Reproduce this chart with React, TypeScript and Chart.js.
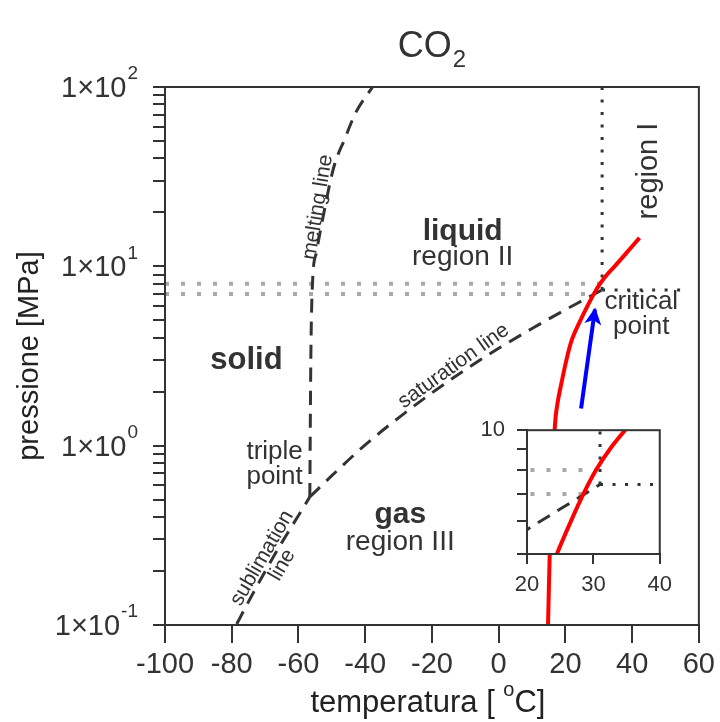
import { useEffect, useRef } from 'react';
import { Chart, registerables } from 'chart.js';

Chart.register(...registerables);

const FONT = '"Liberation Sans", Arial, Helvetica, sans-serif';
const INK = '#333333';
const RED = '#ff0000';
const BLUE = '#0000ff';
const GRAY_DOT = '#a8a8a8';

// CO2 phase boundaries: temperature [°C] vs pressure [MPa]
const meltingT = [-56.6, -56.3, -55.8, -54.6, -53.0, -49.4, -46.0, -42.9, -37.8];
const meltingP = [0.518, 3, 8, 12, 17.4, 35.8, 52, 71.6, 100];

const sublimationT = [-78.5, -75, -70, -65, -60, -56.6];
const sublimationP = [0.1013, 0.1346, 0.199, 0.288, 0.408, 0.518];

const saturationT = [-56.6, -50, -40, -30, -20, -10, 0, 10, 20, 25, 31];
const saturationP = [0.518, 0.68, 1.01, 1.43, 1.97, 2.65, 3.49, 4.5, 5.73, 6.43, 7.38];

// process path (red) and its direction (blue arrow)
const pathT = [14.8, 15.3, 16.0, 17.0, 17.8, 19.0, 20.3, 21.9, 24.5, 26.6, 28.5, 30.4, 32.5, 34.75, 38.5, 42.2];
const pathP = [0.1, 0.25, 0.7, 1.4, 1.8, 2.32, 3.0, 3.88, 5.0, 6.0, 7.0, 8.0, 9.0, 10, 12, 14.4];
const arrowT = [24.7, 28.85];
const arrowP = [1.61, 5.75];

// critical point and reference lines
const criticalT = 31.0;
const criticalP = 7.38;
const isothermP = [criticalP, 100];
const isobarT = [criticalT, 57];
const insetIsobarT = [criticalT, 39];
const refP = [8, 7];
const refEndT = [30.4, 28.5];

// axes
const xMin = -100;
const xMax = 60;
const xStep = 20;
const yMin = 0.1;
const yMax = 100;
const yDecades = [-1, 0, 1, 2];
const insetXMin = 20;
const insetXMax = 40;
const insetYMin = 5;
const insetYMax = 10;
const insetYTicks = [5, 6, 7, 8, 9, 10];

const pts = (xs: number[], ys: number[]) => xs.map((x, i) => ({ x, y: ys[i] }));

function line(data: any[], color: string, width: number, dash: number[], order: number, curve = '') {
  return {
    data,
    borderColor: color,
    borderWidth: width,
    borderDash: dash,
    borderCapStyle: 'butt',
    pointRadius: 0,
    fill: false,
    order,
    cubicInterpolationMode: curve === 'monotone' ? 'monotone' : 'default',
    tension: curve === 'spline' ? 0.35 : 0,
  };
}

function refLines(isobar: number[]) {
  return [
    line(pts([xMin, refEndT[0]], [refP[0], refP[0]]), GRAY_DOT, 4, [4, 12], 5),
    line(pts([xMin, refEndT[1]], [refP[1], refP[1]]), GRAY_DOT, 4, [4, 12], 5),
    line(pts([criticalT, criticalT], isothermP), INK, 3, [3, 9.5], 4),
    line(pts(isobar, [criticalP, criticalP]), INK, 3, [3, 9.5], 4),
  ];
}

function text(ctx: CanvasRenderingContext2D, s: string, x: number, y: number, size: number, o: any = {}) {
  ctx.save();
  ctx.translate(x, y);
  if (o.angle) ctx.rotate((o.angle * Math.PI) / 180);
  ctx.font = `${o.bold ? 'bold ' : ''}${size}px ${FONT}`;
  ctx.fillStyle = o.color || INK;
  ctx.textAlign = o.align || 'center';
  ctx.textBaseline = o.baseline || 'middle';
  ctx.fillText(s, 0, 0);
  ctx.restore();
}

// labels placed in data coordinates (T, P)
const notes = [
  { s: 'liquid', T: -10.8, P: 15.5, size: 30, bold: true },
  { s: 'region II', T: -10.8, P: 11.3, size: 28 },
  { s: 'solid', T: -75.6, P: 3.0, size: 31, bold: true },
  { s: 'gas', T: -29.5, P: 0.41, size: 30, bold: true },
  { s: 'region III', T: -29.5, P: 0.29, size: 28 },
  { s: 'triple', T: -58.7, P: 0.922, size: 26, align: 'right' },
  { s: 'point', T: -58.7, P: 0.668, size: 26, align: 'right' },
  { s: 'critical', T: 42.75, P: 6.32, size: 26 },
  { s: 'point', T: 42.75, P: 4.59, size: 26 },
  { s: 'region I', T: 45.2, P: 34.0, size: 29, angle: -90 },
  { s: 'melting line', T: -54.2, P: 21.4, size: 21, angle: -80.7 },
  { s: 'saturation line', T: -13.5, P: 2.78, size: 21, angle: -35.5 },
  { s: 'sublimation', T: -70.9, P: 0.236, size: 21, angle: -60 },
  { s: 'line', T: -64.9, P: 0.216, size: 21, angle: -60 },
];

const mainDecor = {
  id: 'mainDecor',
  afterDraw(chart: any) {
    const { ctx, chartArea: a, scales } = chart;
    const sx = scales.x;
    const sy = scales.y;
    ctx.save();
    ctx.strokeStyle = INK;
    ctx.lineWidth = 2;
    ctx.strokeRect(a.left, a.top, a.right - a.left, a.bottom - a.top);
    ctx.restore();

    // arrow head on the blue direction marker
    const x0 = sx.getPixelForValue(arrowT[0]);
    const y0 = sy.getPixelForValue(arrowP[0]);
    const x1 = sx.getPixelForValue(arrowT[1]);
    const y1 = sy.getPixelForValue(arrowP[1]);
    const len = Math.hypot(x1 - x0, y1 - y0);
    const ux = (x1 - x0) / len;
    const uy = (y1 - y0) / len;
    const tx = x1 + ux * 2;
    const ty = y1 + uy * 2;
    const hl = 17;
    const hw = 8.5;
    ctx.save();
    ctx.fillStyle = BLUE;
    ctx.beginPath();
    ctx.moveTo(tx, ty);
    ctx.lineTo(tx - ux * hl - uy * hw, ty - uy * hl + ux * hw);
    ctx.lineTo(tx - ux * hl * 0.75, ty - uy * hl * 0.75);
    ctx.lineTo(tx - ux * hl + uy * hw, ty - uy * hl - ux * hw);
    ctx.closePath();
    ctx.fill();
    ctx.restore();

    // y tick labels 1×10^n
    ctx.save();
    const xr = a.left - 27;
    for (const e of yDecades) {
      const py = sy.getPixelForValue(Math.pow(10, e));
      ctx.font = `19px ${FONT}`;
      const sup = String(e);
      const sw = ctx.measureText(sup).width;
      text(ctx, sup, xr, py - 13, 19, { align: 'right' });
      text(ctx, '1×10', xr - sw - 1, py + 2, 29, { align: 'right' });
    }
    ctx.restore();

    // title CO2
    ctx.save();
    const cx = (a.left + a.right) / 2;
    ctx.font = `36px ${FONT}`;
    const wCO = ctx.measureText('CO').width;
    ctx.font = `24px ${FONT}`;
    const w2 = ctx.measureText('2').width;
    const sx0 = cx - (wCO + w2 + 1) / 2;
    text(ctx, 'CO', sx0, 57, 36, { align: 'left', baseline: 'alphabetic' });
    text(ctx, '2', sx0 + wCO + 1, 67, 24, { align: 'left', baseline: 'alphabetic' });
    ctx.restore();

    // x axis title with raised degree sign
    ctx.save();
    ctx.font = `31px ${FONT}`;
    const p1 = 'temperatura [ ';
    const p3 = 'C]';
    const w1 = ctx.measureText(p1).width;
    const w3 = ctx.measureText(p3).width;
    ctx.font = `20px ${FONT}`;
    const wo = ctx.measureText('o').width;
    const start = cx - 4 - (w1 + wo + w3) / 2;
    text(ctx, p1, start, 712, 31, { align: 'left', baseline: 'alphabetic', color: '#222' });
    text(ctx, 'o', start + w1, 696, 20, { align: 'left', baseline: 'alphabetic', color: '#222' });
    text(ctx, p3, start + w1 + wo, 712, 31, { align: 'left', baseline: 'alphabetic', color: '#222' });
    text(ctx, 'pressione [MPa]', 30, (a.top + a.bottom) / 2, 29, { angle: -90, color: '#222' });
    ctx.restore();

    for (const n of notes) {
      text(ctx, n.s, sx.getPixelForValue(n.T), sy.getPixelForValue(n.P), n.size, n);
    }
  },
};

const insetDecor = {
  id: 'insetDecor',
  beforeDatasetsDraw(chart: any) {
    const { ctx, chartArea: a } = chart;
    ctx.save();
    ctx.fillStyle = '#ffffff';
    ctx.fillRect(a.left, a.top, a.right - a.left, a.bottom - a.top);
    ctx.restore();
  },
  afterDraw(chart: any) {
    const { ctx, chartArea: a } = chart;
    ctx.save();
    ctx.strokeStyle = INK;
    ctx.lineWidth = 2;
    ctx.strokeRect(a.left, a.top, a.right - a.left, a.bottom - a.top);
    ctx.restore();
  },
};

function axisStyle(tickLength: number) {
  return {
    grid: { display: true, drawOnChartArea: false, drawTicks: true, tickLength, color: INK, lineWidth: 2 },
    border: { display: true, color: INK, width: 2 },
  };
}

// 1..9 × 10^n tick marks over the decades of the pressure axis
function decadeTicks(s: any) {
  const out: any[] = [];
  for (let e = Math.log10(yMin); e < Math.log10(yMax); e++) {
    for (let k = 1; k < 10; k++) out.push({ value: k * Math.pow(10, e), major: k === 1 });
  }
  out.push({ value: yMax, major: true });
  s.ticks = out;
}

function mainConfig(): any {
  return {
    type: 'line',
    data: {
      datasets: [
        line(pts(meltingT, meltingP), INK, 3, [14, 9], 2, 'monotone'),
        line(pts(sublimationT, sublimationP), INK, 3, [14, 9], 2, 'monotone'),
        line(pts(saturationT, saturationP), INK, 3, [14, 9], 2, 'monotone'),
        line(pts(pathT, pathP), RED, 4, [], 1, 'spline'),
        line(pts(arrowT, arrowP), BLUE, 4, [], 0),
        ...refLines(isobarT),
      ],
    },
    options: {
      responsive: false,
      animation: false,
      events: [],
      layout: { padding: { top: 87, right: 17, left: 0, bottom: 0 } },
      plugins: { legend: { display: false }, tooltip: { enabled: false }, title: { display: false } },
      scales: {
        x: {
          type: 'linear',
          min: xMin,
          max: xMax,
          ...axisStyle(18),
          ticks: { stepSize: xStep, autoSkip: false, maxRotation: 0, color: INK, padding: 5, font: { family: FONT, size: 29 } },
          afterFit: (s: any) => { s.height = 97; },
        },
        y: {
          type: 'logarithmic',
          min: yMin,
          max: yMax,
          ...axisStyle(12),
          ticks: { autoSkip: false, callback: () => '' },
          afterBuildTicks: decadeTicks,
          afterFit: (s: any) => { s.width = 165; },
        },
      },
    },
    plugins: [mainDecor],
  };
}

function insetConfig(): any {
  return {
    type: 'line',
    data: {
      datasets: [
        line(pts(saturationT, saturationP), INK, 3, [14, 9], 2, 'monotone'),
        line(pts(pathT, pathP), RED, 4, [], 1, 'spline'),
        ...refLines(insetIsobarT),
      ],
    },
    options: {
      responsive: false,
      animation: false,
      events: [],
      layout: { padding: { top: 16, right: 20, left: 0, bottom: 0 } },
      plugins: { legend: { display: false }, tooltip: { enabled: false }, title: { display: false } },
      scales: {
        x: {
          type: 'linear',
          min: insetXMin,
          max: insetXMax,
          ...axisStyle(10),
          ticks: { stepSize: 10, autoSkip: false, maxRotation: 0, color: INK, padding: 8, font: { family: FONT, size: 22 } },
          afterFit: (s: any) => { s.height = 51; },
        },
        y: {
          type: 'logarithmic',
          min: insetYMin,
          max: insetYMax,
          ...axisStyle(10),
          ticks: {
            autoSkip: false,
            color: INK,
            padding: 12,
            font: { family: FONT, size: 22 },
            callback: (v: number) => (v === insetYMax ? String(insetYMax) : ''),
          },
          afterBuildTicks: (s: any) => {
            s.ticks = insetYTicks.map((v) => ({ value: v }));
          },
          afterFit: (s: any) => { s.width = 47; },
        },
      },
    },
    plugins: [insetDecor],
  };
}

export default function App() {
  const mainRef = useRef<HTMLCanvasElement>(null);
  const insetRef = useRef<HTMLCanvasElement>(null);

  useEffect(() => {
    const main = new Chart(mainRef.current as HTMLCanvasElement, mainConfig());
    const inset = new Chart(insetRef.current as HTMLCanvasElement, insetConfig());
    return () => {
      main.destroy();
      inset.destroy();
    };
  }, []);

  return (
    <div style={{ position: 'fixed', left: 0, top: 0, width: 720, height: 722, background: '#ffffff' }}>
      <canvas ref={mainRef} width={720} height={722} style={{ position: 'absolute', left: 0, top: 0 }} />
      <canvas ref={insetRef} width={200} height={200} style={{ position: 'absolute', left: 480, top: 405 }} />
    </div>
  );
}
